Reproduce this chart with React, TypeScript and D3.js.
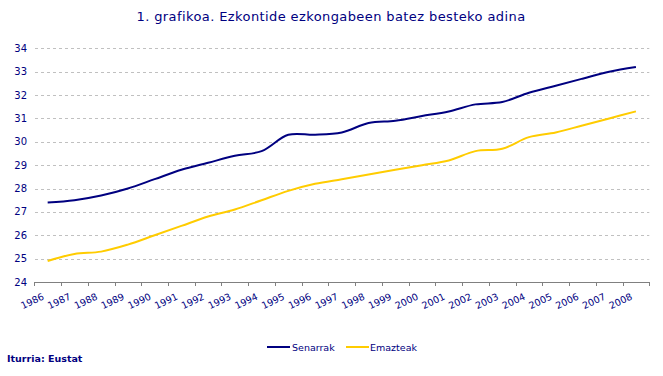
import React from "react";
import * as d3 from "d3";

const years = ["1986","1987","1988","1989","1990","1991","1992","1993","1994","1995","1996","1997","1998","1999","2000","2001","2002","2003","2004","2005","2006","2007","2008"];
const senarrak = [27.4,27.5,27.7,28.0,28.4,28.8,29.1,29.4,29.6,30.3,30.3,30.4,30.8,30.9,31.1,31.3,31.6,31.7,32.1,32.4,32.7,33.0,33.2];
const emazteak = [24.9,25.2,25.3,25.6,26.0,26.4,26.8,27.1,27.5,27.9,28.2,28.4,28.6,28.8,29.0,29.2,29.6,29.7,30.2,30.4,30.7,31.0,31.3];
const yTicks = [24,25,26,27,28,29,30,31,32,33,34];
const seriesNames = ["Senarrak","Emazteak"];
const colors = ["#000080","#FFCC00"];
const title = "1. grafikoa. Ezkontide ezkongabeen batez besteko adina";
const source = "Iturria: Eustat";

export default function App() {
  const W = 663, H = 376;
  const x = d3.scaleBand<string>().domain(years).range([34.3, 649.3]);
  const y = d3.scaleLinear().domain([24, 34]).range([282, 48.3]);
  const cx = (d: string) => (x(d) as number) + x.bandwidth() / 2;
  const line = d3.line<number>()
    .x((_, i) => cx(years[i]))
    .y((v) => y(v))
    .curve(d3.curveCatmullRom.alpha(0.5));
  const font = "'DejaVu Sans', Verdana, sans-serif";
  const navy = "#000080";
  const boundaries = years.map((d) => x(d) as number).concat([x.range()[1]]);
  const series = [senarrak, emazteak];
  return (
    <svg width={W} height={H} style={{ position: "absolute", left: 0, top: 0, background: "#fff" }} fontFamily={font}>
      <text x={331} y={20.5} textAnchor="middle" fontSize={13} letterSpacing={0.4} fill={navy} fontWeight={500}>{title}</text>
      {yTicks.map((t) => (
        <g key={t}>
          {t !== 24 && (
            <line x1={35} x2={649.3} y1={Math.round(y(t)) + 0.5} y2={Math.round(y(t)) + 0.5} stroke="#c0c0c0" strokeDasharray="3,3" />
          )}
          <text x={27} y={y(t) + 3.5} textAnchor="end" fontSize={10} fill={navy}>{t}</text>
        </g>
      ))}
      <line x1={34.3} x2={649.3} y1={282.5} y2={282.5} stroke="#808080" />
      {boundaries.map((b, i) => (
        <line key={i} x1={Math.round(b) + 0.5} x2={Math.round(b) + 0.5} y1={282} y2={286} stroke="#808080" />
      ))}
      {years.map((d) => (
        <text key={d} transform={`translate(${cx(d) - 3},${299}) rotate(-25)`} textAnchor="end" fontSize={9.5} fill={navy}>{d}</text>
      ))}
      {series.map((s, i) => (
        <path key={i} d={line(s) || ""} fill="none" stroke={colors[i]} strokeWidth={2} />
      ))}
      <g>
        <line x1={267} x2={290} y1={347} y2={347} stroke={colors[0]} strokeWidth={2} />
        <text x={292} y={350.5} fontSize={9.5} fill={navy}>{seriesNames[0]}</text>
        <line x1={346} x2={369} y1={347} y2={347} stroke={colors[1]} strokeWidth={2} />
        <text x={370} y={350.5} fontSize={9.5} fill={navy}>{seriesNames[1]}</text>
      </g>
      <text x={7} y={362} fontSize={9.5} fontWeight="bold" fill={navy}>{source}</text>
    </svg>
  );
}
